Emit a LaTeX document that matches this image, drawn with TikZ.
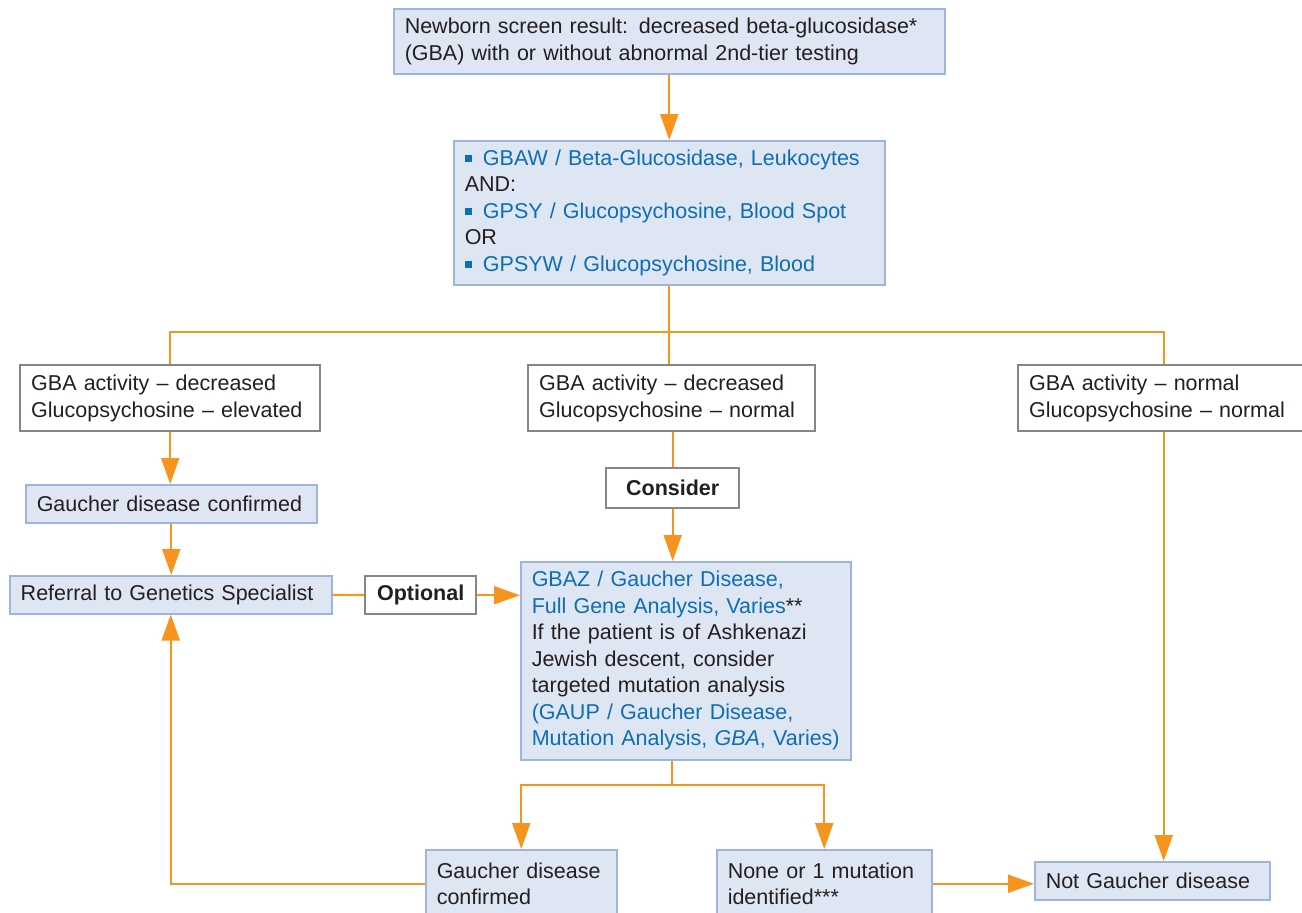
\documentclass[tikz,border=0pt]{standalone}
\usepackage{fontspec}
\setmainfont{Liberation Sans}
\usetikzlibrary{arrows.meta}

\definecolor{flowline}{HTML}{F7941D}
\definecolor{boxfill}{HTML}{DFE6F3}
\definecolor{boxedge}{HTML}{9DB5DE}
\definecolor{greyedge}{HTML}{848689}
\definecolor{testblue}{HTML}{0D6EB4}
\definecolor{ink}{HTML}{231F20}

\newcommand{\sqbullet}{{\color{testblue}\rule[1.6pt]{3.6pt}{3.6pt}}\hspace{5.5pt}}

\tikzset{
    bluebox/.style={draw=boxedge, fill=boxfill, line width=0.75pt, anchor=north west,
        align=left, inner xsep=5.5pt, inner ysep=0pt, text=ink,
        font=\fontsize{10.75pt}{13.25pt}\selectfont},
    whitebox/.style={bluebox, draw=greyedge, fill=white, line width=1.2pt},
    link/.style={draw=flowline, line width=1pt},
    arrow/.style={link, -{Triangle[length=13pt,width=9pt]}}
}

\begin{document}
\begin{tikzpicture}[x=0.5pt,y=-0.5pt]
        \clip (0,0) rectangle (1302,912);

        %%%%%%%%% Screening %%%%%%%%%
        \node[bluebox, minimum width=275.5pt, minimum height=32.5pt, text width=264.5pt] (screen) at (393,8)
            {Newborn screen result: decreased beta-glucosidase*\\(GBA) with or without abnormal 2nd-tier testing};
        \node[bluebox, minimum width=215.5pt, minimum height=72pt, text width=204.5pt] (tests) at (453,140)
            {\sqbullet{\color{testblue}GBAW / Beta-Glucosidase, Leukocytes}\\AND:\\
             \sqbullet{\color{testblue}GPSY / Glucopsychosine, Blood Spot}\\OR\\
             \sqbullet{\color{testblue}GPSYW / Glucopsychosine, Blood}};

        %%%%%%%%% Risultati %%%%%%%%%
        \node[whitebox, minimum width=150pt, minimum height=33pt, text width=139pt] (lowhigh) at (19,364)
            {GBA activity – decreased\\Glucopsychosine – elevated};
        \node[whitebox, minimum width=143.5pt, minimum height=33pt, text width=132.5pt] (lownorm) at (527,364)
            {GBA activity – decreased\\Glucopsychosine – normal};
        \node[whitebox, minimum width=145.5pt, minimum height=33pt, text width=134.5pt] (normnorm) at (1017,364)
            {GBA activity – normal\\Glucopsychosine – normal};

        %%%%%%%%% Sinistra %%%%%%%%%
        \node[bluebox, minimum width=145.5pt, minimum height=19pt, text width=134.5pt] (confirmA) at (25,484)
            {Gaucher disease confirmed};
        \node[bluebox, minimum width=161pt, minimum height=19pt, text width=150pt] (referral) at (9,575)
            {Referral to Genetics Specialist};
        \node[whitebox, minimum width=55.5pt, minimum height=19pt, text width=44.5pt, align=center] (optional) at (364,575)
            {\bfseries Optional};

        %%%%%%%%% Centro %%%%%%%%%
        \node[whitebox, minimum width=66.5pt, minimum height=20pt, text width=55.5pt, align=center] (consider) at (605,467)
            {\bfseries Consider};
        \node[bluebox, minimum width=165pt, minimum height=99pt, inner xsep=3pt, text width=159pt] (gbaz) at (520,561)
            {\hspace*{2.5pt}{\color{testblue}GBAZ / Gaucher Disease,}\\\hspace*{2.5pt}{\color{testblue}Full Gene Analysis, Varies}**\\
             \hspace*{2.5pt}If the patient is of Ashkenazi\\\hspace*{2.5pt}Jewish descent, consider\\\hspace*{2.5pt}targeted mutation analysis\\
             \hspace*{2.5pt}{\color{testblue}(GAUP / Gaucher Disease,}\\\hspace*{2.5pt}{\color{testblue}Mutation Analysis, \textit{GBA}, Varies)}};

        %%%%%%%%% Esiti %%%%%%%%%
        \node[bluebox, minimum width=95.5pt, minimum height=34pt, text width=84.5pt] (confirmB) at (425,849)
            {Gaucher disease\\confirmed};
        \node[bluebox, minimum width=107.5pt, minimum height=34pt, text width=96.5pt] (onemut) at (716,849)
            {None or 1 mutation\\identified***};
        \node[bluebox, minimum width=117.5pt, minimum height=19pt, text width=106.5pt] (notgaucher) at (1034,861)
            {Not Gaucher disease};

        %%%%%%%%% Frecce %%%%%%%%%
        \draw[arrow] (screen.south) -- (tests.north);
        \coordinate (split) at (668.5,332);
        \draw[link] (tests.south) -- (tests.south |- lownorm.north);
        \draw[link] (lowhigh.north) |- (split) -| (normnorm.north);

        \draw[arrow] (lowhigh.south) -- (lowhigh.south |- confirmA.north);
        \draw[arrow] (confirmA.south) -- (confirmA.south |- referral.north);
        \draw[link] (referral.east) -- (optional.west);
        \draw[arrow] (optional.east) -- (optional.east -| gbaz.west);

        \draw[link] (lownorm.south -| consider.north) -- (consider.north);
        \draw[arrow] (consider.south) -- (consider.south |- gbaz.north);

        \coordinate (fork) at (671.5,785);
        \draw[link] (gbaz.south -| fork) -- (fork);
        \draw[arrow] (fork) -| (confirmB.north);
        \draw[arrow] (fork) -| (onemut.north);

        \draw[arrow] (confirmB.west) -| (referral.south);
        \draw[arrow] (onemut.east) -- (onemut.east -| notgaucher.west);
        \draw[arrow] (normnorm.south) -- (normnorm.south |- notgaucher.north);
    \end{tikzpicture}
\end{document}
